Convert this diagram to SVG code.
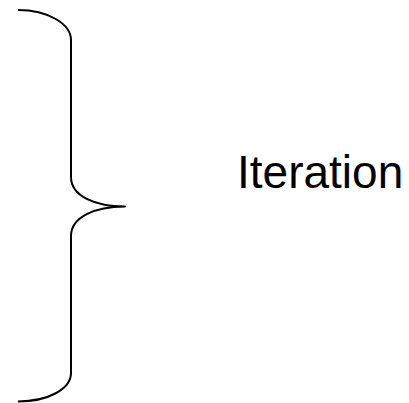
<svg xmlns="http://www.w3.org/2000/svg" width="409" height="403" viewBox="0 0 409 403">
  <style>
    .brace { fill: none; stroke: #000; stroke-width: 2; stroke-linecap: butt; stroke-linejoin: round; }
    .label { font-family: "Liberation Sans", Arial, sans-serif; font-size: 46px; fill: #000; }
  </style>
  <rect width="409" height="403" fill="#fff"/>
  <g id="brace">
    <path class="brace" d="M18,10 C48,10 71,24 71,40 L71,177 C71,196 95,206.5 125,206.5 C95,206.5 71,217 71,236 L71,373 C71,389 48,401.5 18,401.5"/>
  </g>
  <g id="label-iteration">
    <text class="label" x="237" y="188">Iteration</text>
  </g>
</svg>
